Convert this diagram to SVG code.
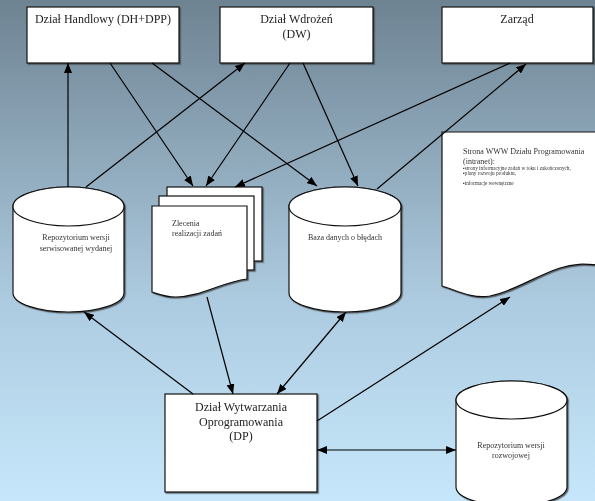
<svg xmlns="http://www.w3.org/2000/svg" width="595" height="501" viewBox="0 0 595 501">
<defs>
<linearGradient id="bg" x1="0" y1="0" x2="0" y2="1">
<stop offset="0" stop-color="#6e8392"/>
<stop offset="0.6" stop-color="#adcbe0"/>
<stop offset="1" stop-color="#c6e7fb"/>
</linearGradient>
<marker id="ah" viewBox="0 0 10 8" refX="10" refY="4" markerWidth="10" markerHeight="8" markerUnits="userSpaceOnUse" orient="auto-start-reverse">
<path d="M0,0 L10,4 L0,8 Z" fill="#000"/>
</marker>
<filter id="sh" x="-5%" y="-5%" width="115%" height="115%">
<feDropShadow dx="1.2" dy="1.2" stdDeviation="0.6" flood-color="#333" flood-opacity="0.7"/>
</filter>
</defs>
<style>
.shape{fill:#fff;stroke:#111;stroke-width:1.2}
.t12{font-family:"Liberation Serif","Times New Roman",serif;font-size:12px;fill:#222}
.t8{font-family:"Liberation Serif","Times New Roman",serif;font-size:8px;fill:#333}
.t5{font-family:"Liberation Serif","Times New Roman",serif;font-size:5.2px;fill:#333}
.c{stroke:#000;stroke-width:1.2;fill:none;marker-end:url(#ah)}
.d{marker-start:url(#ah)}
</style>
<rect x="0" y="0" width="595" height="501" fill="url(#bg)"/>

<g id="dzial-handlowy" filter="url(#sh)">
<rect class="shape" x="27" y="7" width="152" height="56"/>
<text class="t12" x="103" y="23" text-anchor="middle">Dział Handlowy (DH+DPP)</text>
</g>
<g id="dzial-wdrozen" filter="url(#sh)">
<rect class="shape" x="220" y="7" width="153" height="56"/>
<text class="t12" x="296.5" y="23" text-anchor="middle">Dział Wdrożeń</text>
<text class="t12" x="296.5" y="38" text-anchor="middle">(DW)</text>
</g>
<g id="zarzad" filter="url(#sh)">
<rect class="shape" x="442" y="7" width="151" height="56"/>
<text class="t12" x="517" y="23" text-anchor="middle">Zarząd</text>
</g>

<g id="repo-serwisowane" filter="url(#sh)">
<path class="shape" d="M13,206.5 V293 A55.5,19 0 0 0 124,293 V206.5 A55.5,19.5 0 0 0 13,206.5 Z"/>
<ellipse class="shape" cx="68.5" cy="206.5" rx="55.5" ry="19.5"/>
<text class="t8" x="76" y="240" text-anchor="middle">Repozytorium wersji</text>
<text class="t8" x="76" y="251" text-anchor="middle">serwisowanej wydanej</text>
</g>

<g id="zlecenia" filter="url(#sh)">
<rect class="shape" x="167" y="187" width="95" height="74"/>
<rect class="shape" x="159" y="196" width="95" height="74"/>
<path class="shape" d="M152,206 H247 V279 C222,282 200,297 176,297 C165,297 158,294 152,292 Z"/>
<text class="t8" x="172" y="226">Zlecenia</text>
<text class="t8" x="172" y="236">realizacji zadań</text>
</g>

<g id="baza-bledow" filter="url(#sh)">
<path class="shape" d="M289,206.5 V293 A56,19 0 0 0 401,293 V206.5 A56,19.5 0 0 0 289,206.5 Z"/>
<ellipse class="shape" cx="345" cy="206.5" rx="56" ry="19.5"/>
<text class="t8" x="345" y="240" text-anchor="middle">Baza danych o błędach</text>
</g>

<g id="strona-www" filter="url(#sh)">
<path class="shape" d="M442,132 H600 V265 C585,264 575,263 560,268 C535,276 515,291 490,296 C472,299 458,291 442,286 Z"/>
<text class="t8" x="463" y="154">Strona WWW Działu Programowania</text>
<text class="t8" x="463" y="164">(intranet):</text>
<text class="t5" x="463" y="170">▪strony informacyjne zadań w toku i zakończonych,</text>
<text class="t5" x="463" y="175">▪plany rozwoju produktu,</text>
<text class="t5" x="463" y="185">▪informacje  wewnętrzne</text>
</g>

<g id="dzial-wytwarzania" filter="url(#sh)">
<rect class="shape" x="165" y="394" width="152" height="98"/>
<text class="t12" x="241" y="411" text-anchor="middle">Dział Wytwarzania</text>
<text class="t12" x="241" y="425.5" text-anchor="middle">Oprogramowania</text>
<text class="t12" x="241" y="440" text-anchor="middle">(DP)</text>
</g>

<g id="repo-rozwojowe" filter="url(#sh)">
<path class="shape" d="M456,400 V487 A55.5,19 0 0 0 567,487 V400 A55.5,19 0 0 0 456,400 Z"/>
<ellipse class="shape" cx="511.5" cy="400" rx="55.5" ry="19"/>
<text class="t8" x="511" y="448" text-anchor="middle">Repozytorium wersji</text>
<text class="t8" x="511" y="458" text-anchor="middle">rozwojowej</text>
</g>

<g id="connectors">
<line class="c" x1="68" y1="187" x2="68" y2="63"/>
<line class="c" x1="86" y1="187" x2="245" y2="63"/>
<line class="c" x1="110" y1="63" x2="193" y2="186"/>
<line class="c" x1="152" y1="63" x2="317" y2="186"/>
<line class="c" x1="290" y1="63" x2="206" y2="186"/>
<line class="c" x1="303" y1="63" x2="358" y2="186"/>
<line class="c" x1="510" y1="63" x2="235" y2="187"/>
<line class="c" x1="377" y1="189" x2="526" y2="64"/>
<line class="c" x1="193" y1="394" x2="84" y2="312"/>
<line class="c" x1="207" y1="297" x2="233" y2="394"/>
<line class="c d" x1="277" y1="394" x2="346" y2="312"/>
<line class="c" x1="317" y1="421" x2="510" y2="297"/>
<line class="c d" x1="317" y1="450" x2="456" y2="450"/>
</g>
</svg>
